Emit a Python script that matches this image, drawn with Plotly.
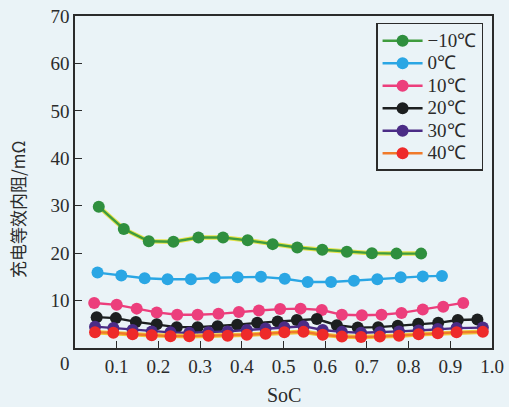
import plotly.graph_objects as go

# Charging equivalent internal resistance vs. state of charge at six temperatures
soc_m10 = [0.057, 0.117, 0.177, 0.236, 0.296, 0.355, 0.414, 0.474, 0.533, 0.593, 0.652, 0.712, 0.771, 0.830]
r_m10 = [29.8, 25.1, 22.5, 22.4, 23.3, 23.3, 22.7, 21.9, 21.2, 20.7, 20.3, 20.0, 19.9, 19.9]

soc_0 = [0.054, 0.111, 0.167, 0.222, 0.278, 0.335, 0.390, 0.446, 0.503, 0.558, 0.614, 0.669, 0.725, 0.781, 0.834, 0.880]
r_0 = [15.9, 15.3, 14.7, 14.5, 14.5, 14.8, 14.9, 15.0, 14.6, 13.9, 13.9, 14.2, 14.5, 14.9, 15.1, 15.2]

soc_10 = [0.046, 0.100, 0.148, 0.196, 0.245, 0.294, 0.344, 0.393, 0.441, 0.492, 0.541, 0.592, 0.640,
          0.688, 0.735, 0.783, 0.834, 0.883, 0.931]
r_10 = [9.5, 9.1, 8.3, 7.5, 7.0, 7.0, 7.2, 7.6, 7.9, 8.2, 8.3, 8.0, 7.0, 6.9, 7.0, 7.4, 8.1, 8.7, 9.5]

soc_20 = [0.052, 0.098, 0.146, 0.196, 0.244, 0.294, 0.342, 0.389, 0.437, 0.486, 0.532, 0.580, 0.628,
          0.678, 0.727, 0.774, 0.823, 0.871, 0.918, 0.965]
r_20 = [6.5, 6.3, 5.5, 5.0, 4.4, 4.4, 4.6, 4.9, 5.3, 5.6, 5.9, 6.1, 4.8, 4.3, 4.4, 4.7, 5.1, 5.3, 5.9, 6.0]

soc_30 = [0.048, 0.092, 0.138, 0.184, 0.229, 0.274, 0.320, 0.366, 0.412, 0.457, 0.502, 0.548, 0.594,
          0.640, 0.686, 0.731, 0.777, 0.824, 0.870, 0.915, 0.978]
r_30 = [4.5, 4.2, 3.8, 3.5, 3.3, 3.2, 3.3, 3.5, 3.8, 4.1, 4.4, 4.6, 3.8, 3.4, 3.2, 3.3, 3.5, 3.7, 4.0, 4.2, 4.3]

soc_40 = [0.048, 0.092, 0.138, 0.184, 0.229, 0.274, 0.320, 0.366, 0.412, 0.457, 0.502, 0.548, 0.594,
          0.640, 0.686, 0.731, 0.777, 0.824, 0.870, 0.915, 0.978]
r_40 = [3.3, 3.2, 2.9, 2.7, 2.5, 2.5, 2.6, 2.6, 2.8, 3.0, 3.3, 3.4, 2.8, 2.4, 2.3, 2.4, 2.6, 2.9, 3.1, 3.3, 3.4]

x_ticks = [0.1, 0.2, 0.3, 0.4, 0.5, 0.6, 0.7, 0.8, 0.9, 1.0]
x_tick_text = ["0.1", "0.2", "0.3", "0.4", "0.5", "0.6", "0.7", "0.8", "0.9", "1.0"]
y_ticks = [10, 20, 30, 40, 50, 60, 70]

# name, x, y, marker colour, line colour, halo colour under the line (or None)
series = [
    ("−10℃", soc_m10, r_m10, "#2f8f3e", "#3f9c3e", "#e6e34a"),
    ("0℃", soc_0, r_0, "#2aa6e4", "#2aa6e4", None),
    ("10℃", soc_10, r_10, "#ec3e7c", "#ec3e7c", None),
    ("20℃", soc_20, r_20, "#1c1f20", "#1c1f20", None),
    ("30℃", soc_30, r_30, "#4b2c86", "#4b2c86", None),
    ("40℃", soc_40, r_40, "#ee2a2a", "#f07a2a", "#f2c53a"),
]

bg = "#eaf3f7"
ink = "#2b2b2b"
serif = "Liberation Serif, Times New Roman, serif"

fig = go.Figure()
for name, xs, ys, mcol, lcol, halo in series:
    if halo:
        fig.add_trace(go.Scatter(
            x=xs, y=ys, mode="lines", showlegend=False, hoverinfo="skip",
            line=dict(color=halo, width=4.5),
        ))
    fig.add_trace(go.Scatter(
        x=xs, y=ys, mode="lines+markers",
        name="<span style='font-size:19px'>" + name + "</span>",
        line=dict(color=lcol, width=2.4),
        marker=dict(color=mcol, size=12, line=dict(width=0)),
    ))

# Shared origin label below the corner
fig.add_annotation(x=0, y=0, xref="x", yref="y", text="0", showarrow=False,
                   xshift=-10, yshift=-15, font=dict(family=serif, size=19, color=ink))

# Axis titles
fig.add_annotation(x=0.5, y=0, xref="paper", yref="paper", text="SoC", showarrow=False,
                   xanchor="center", yanchor="middle", yshift=-47,
                   font=dict(family=serif, size=20, color=ink))
fig.add_annotation(x=0, y=0.416, xref="paper", yref="paper", text="充电等效内阻/mΩ",
                   textangle=-90, showarrow=False, xanchor="center", yanchor="middle", xshift=-57,
                   font=dict(family="Noto Sans CJK SC, Liberation Serif, serif", size=17, color=ink))

fig.update_layout(
    width=509, height=407,
    margin=dict(l=75, r=17, t=16, b=59),
    paper_bgcolor=bg, plot_bgcolor=bg,
    font=dict(family=serif, size=19, color=ink),
    showlegend=True,
    legend=dict(
        x=0.722, y=0.979, xanchor="left", yanchor="top",
        bgcolor=bg, bordercolor=ink, borderwidth=1.5,
        font=dict(family=serif, size=15, color=ink),
        tracegroupgap=0, itemwidth=40,
    ),
    xaxis=dict(
        range=[0, 1.0], tickvals=x_ticks, ticktext=x_tick_text,
        ticks="inside", ticklen=7, tickwidth=1.3, tickcolor=ink,
        showline=True, linecolor=ink, linewidth=1.5, mirror=True,
        showgrid=False, zeroline=False, automargin=False,
    ),
    yaxis=dict(
        range=[0, 70], tickvals=y_ticks,
        ticks="inside", ticklen=7, tickwidth=1.3, tickcolor=ink,
        showline=True, linecolor=ink, linewidth=1.5, mirror=True,
        showgrid=False, zeroline=False, automargin=False,
    ),
)

fig.write_html("out.html")
